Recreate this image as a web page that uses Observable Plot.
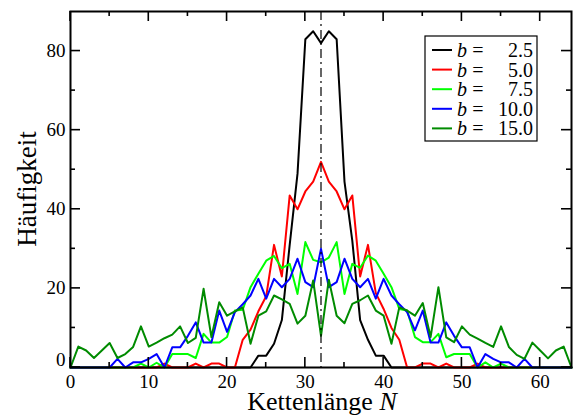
<!DOCTYPE html>
<html><head><meta charset="utf-8">
<script src="https://cdn.jsdelivr.net/npm/d3@7"></script>
<script src="https://cdn.jsdelivr.net/npm/@observablehq/plot@0.6"></script>
<style>body{margin:0;background:#fff;} svg{display:block;}</style>
</head><body><div id="chart"></div>
<script>
const N = [0,1,2,3,4,5,6,7,8,9,10,11,12,13,14,15,16,17,18,19,20,21,22,23,24,25,26,27,28,29,30,31,32,33,34,35,36,37,38,39,40,41,42,43,44,45,46,47,48,49,50,51,52,53,54,55,56,57,58,59,60,61,62,63,64];
const b25 = [0,0,0,0,0,0,0,0,0,0, 0,0,0,0,0,0,0,0,0,0, 0,0,0,0,3,3,6,12,31,49, 83,85,82,85,83,47,32,12,7,3, 3,0,0,0,0,0,0,0,0,0, 0,0,0,0,0,0,0,0,0,0, 0,0,0,0,0];
const b50 = [0,0,0,0,0,0,0,0,0,0, 0,0,1,0,0,0,1,0,1,1, 0,0,7,9.6,14.2,18,31,23,43.5,40, 44.5,47,52,47,44.5,40,43.5,23,31,18.8, 14.8,10,7,0,0,1,1,0,1,0, 0,0,1,0,0,0,0,0,0,0, 0,0,0,0,0];
const b75 = [0,0,0,0,0,0,0,0,0,1, 0,1.2,0,3.4,3.4,3.4,2.4,8.5,6.3,6.3, 7.7,14.4,14.6,20.3,23.7,27,28.2,25.1,26.2,18.6, 31.7,27.2,26.6,27.8,31.7,18.6,26.2,25.2,28.3,27, 23.7,20.3,14.8,14.4,7.7,6.4,6.4,8.5,2.6,3.4, 3.4,3.4,0,1.3,0,1,0,0,0,0, 0,0,0,0,0];
const b100 = [0,0,0,0,0,0,2.2,0,1.3,1.3, 2.2,3.4,0,5.1,5.1,8,11.4,6.3,6.3,14.4, 9,14,16,18.2,22.4,17.4,22.4,20.3,22.4,27.5, 21.6,20.3,30,20.3,21.6,27.5,22.4,20.3,22.4,17.4, 22.4,18.2,16,14,9.4,14.4,6.3,6.3,11.4,8, 5.1,5.1,0,3.4,2.2,1.3,1.3,0,2.2,0, 0,0,0,0,0];
const b150 = [0,5.3,4.3,2.4,4.3,6.2,2.4,3.4,5.2,10.4, 5.3,6.3,7.4,8.3,10.4,6.2,7.5,19.9,7.7,16.5, 13.1,14.2,15.2,6,13.1,14.2,18.2,17.2,16.1,11.1, 13.1,22,8,22.2,13.1,11.2,16.1,17,18.2,14.4, 13.1,6,15.2,14.4,13.1,16.3,7.7,20.3,7.6,6.4, 10.4,8.3,7.3,6.2,5.2,10.4,5.2,3.2,2.2,6.3, 4.3,2.3,4.3,5.3,0];
const seriesLabels = ["2.5", "5.0", "7.5", "10.0", "15.0"];
const seriesColors = ["#000000", "#ff0000", "#00ff00", "#0000ff", "#008b00"];
const seriesValues = [b25, b50, b75, b100, b150];
const centerN = [32];
const xMajor = [0, 10, 20, 30, 40, 50, 60];
const xMinor = [5, 15, 25, 35, 45, 55];
const yMajor = [0, 20, 40, 60, 80];
const yLabelTicks = [20, 40, 60, 80];
const yZeroTick = [0];
const yMinor = [10, 30, 50, 70];
const xTitle = "Kettenlänge ";
const xTitleVar = "N";
const yTitle = "Häufigkeit";

const W = 574, H = 416, mL = 70, mR = 3, mT = 11, mB = 49;
const majorLen = 10, minorLen = 5;

const lineMarks = seriesValues.map((vals, i) =>
  Plot.lineY(vals, {x: N, y: vals, stroke: seriesColors[i], strokeWidth: 2}));

const chart = Plot.plot({
  width: W, height: H,
  marginLeft: mL, marginRight: mR, marginTop: mT, marginBottom: mB,
  style: {fontFamily: "Liberation Serif", fontSize: "19px", color: "black", background: "white"},
  x: {domain: [0, 64]},
  y: {domain: [0, 90]},
  marks: [
    ...lineMarks,
    Plot.ruleX(centerN, {stroke: "black", strokeWidth: 1.2, strokeDasharray: "9,4,2,4"}),
    Plot.axisX(xMajor, {anchor: "bottom", tickSize: 0, tickPadding: 7, label: null, fontSize: 19}),
    Plot.axisY(yLabelTicks, {anchor: "left", tickSize: 0, tickPadding: 5, label: null, fontSize: 19}),
    Plot.axisY(yZeroTick, {anchor: "left", tickSize: 0, tickPadding: 5, label: null, fontSize: 19, dy: -8}),
    Plot.frame({stroke: "black", strokeWidth: 2})
  ]
});
document.getElementById("chart").appendChild(chart);

const svg = d3.select(chart);
const sx = chart.scale("x"), sy = chart.scale("y");
const x0 = sx.apply(0), x1 = sx.apply(64), y0 = sy.apply(0), y1 = sy.apply(90);

// inward ticks on all four sides, positioned through Plot's scales
const tg = svg.append("g");
function tickLine(ax, ay, bx, by) {
  tg.append("path").attr("d", `M${ax},${ay}L${bx},${by}`)
    .attr("fill", "none").attr("stroke", "#000").attr("stroke-width", 1.6);
}
function xTicks(vals, len) {
  vals.forEach(v => {
    const px = sx.apply(v);
    tickLine(px, y0, px, y0 - len);
    tickLine(px, y1, px, y1 + len);
  });
}
function yTicks(vals, len) {
  vals.forEach(v => {
    const py = sy.apply(v);
    tickLine(x0, py, x0 + len, py);
    tickLine(x1, py, x1 - len, py);
  });
}
xTicks(xMajor, majorLen); xTicks(xMinor, minorLen);
yTicks(yMajor, majorLen); yTicks(yMinor, minorLen);

const serif = "Liberation Serif";
// axis titles
const xt = svg.append("text").attr("x", 322).attr("y", 410).attr("text-anchor", "middle")
  .attr("font-family", serif).attr("font-size", 26).attr("fill", "black");
xt.append("tspan").text(xTitle);
xt.append("tspan").attr("font-style", "italic").text(xTitleVar);
svg.append("text").attr("transform", "translate(36,189) rotate(-90)").attr("text-anchor", "middle")
  .attr("font-family", serif).attr("font-size", 27).attr("fill", "black").text(yTitle);

// legend
const lg = svg.append("g").attr("font-family", serif).attr("font-size", 20).attr("fill", "black");
lg.append("rect").attr("x", 425).attr("y", 36).attr("width", 112).attr("height", 105)
  .attr("fill", "white").attr("stroke", "black").attr("stroke-width", 1.2);
seriesLabels.forEach((lab, i) => {
  const y = 50 + i * 19.6;
  lg.append("line").attr("x1", 432).attr("x2", 452).attr("y1", y).attr("y2", y)
    .attr("stroke", seriesColors[i]).attr("stroke-width", 2);
  const t = lg.append("text").attr("x", 462).attr("y", y + 7);
  t.append("tspan").attr("font-style", "italic").text("b");
  t.append("tspan").attr("x", 478).text("=");
  lg.append("text").attr("x", 533).attr("y", y + 7).attr("text-anchor", "end").text(lab);
});
</script></body></html>
